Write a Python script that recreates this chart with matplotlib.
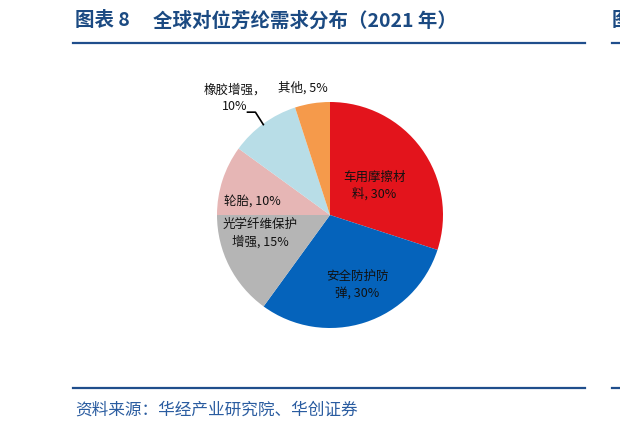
import matplotlib
matplotlib.use("Agg")
import matplotlib.pyplot as plt
from matplotlib.lines import Line2D

plt.rcParams['font.family'] = ['Noto Sans CJK SC', 'DejaVu Sans']

# data
labels = ['车用摩擦材\n料, 30%', '安全防护防\n弹, 30%', '光学纤维保护\n增强, 15%',
          '轮胎, 10%', '橡胶增强，\n10%', '其他, 5%']
shares = [30, 30, 15, 10, 10, 5]
colors = ['#E3141C', '#0563BB', '#B5B5B5', '#E6B6B5', '#B8DDE7', '#F59A4B']
fig_no = '图表 8'
title = '全球对位芳纶需求分布（2021 年）'
source = '资料来源：华经产业研究院、华创证券'

W, H = 620, 430
fig = plt.figure(figsize=(W / 100, H / 100), dpi=100)

# pie axes: centre (330,215) px, radius 113 px
cx, cy, r = 330, 215, 113
ax = fig.add_axes([(cx - r) / W, 1 - (cy + r) / H, 2 * r / W, 2 * r / H])
wedges, _ = ax.pie(shares, colors=colors, startangle=90, counterclock=False,
                   wedgeprops=dict(linewidth=0))
ax.set_xlim(-1, 1)
ax.set_ylim(-1, 1)
ax.set_aspect('equal')
ax.axis('off')

# label positions in pie data coords
label_pos = [(0.39, 0.26), (0.24, -0.62), (-0.62, -0.16),
             (-0.69, 0.12), (-0.84, 1.03), (-0.24, 1.12)]
for lab, (x, y) in zip(labels, label_pos):
    ax.text(x, y, lab, ha='center', va='center', fontsize=9, color='#111111',
            linespacing=1.35, clip_on=False)

# leader line for 橡胶增强
ax.add_line(Line2D([-0.73, -0.66, -0.59], [0.91, 0.91, 0.80], color='black',
                   linewidth=1.2, clip_on=False))

# header / footer
blue = '#1F4E8C'
tcol = '#1B4A82'
fig.text(75 / W, 1 - 21 / H, fig_no, fontsize=14, fontweight='bold',
         color=tcol, va='center', ha='left')
fig.text(153 / W, 1 - 21 / H, title, fontsize=14, fontweight='bold',
         color=tcol, va='center', ha='left')
# start of the next chart's heading, cut by the right edge as in the page
fig.text(612 / W, 1 - 21 / H, '图', fontsize=14, fontweight='bold',
         color=tcol, va='center', ha='left')
for yy in (43, 388):
    fig.add_artist(Line2D([73 / W, 585 / W], [1 - yy / H, 1 - yy / H],
                          color=blue, linewidth=1.6))
    fig.add_artist(Line2D([612 / W, 1.0], [1 - yy / H, 1 - yy / H],
                          color=blue, linewidth=1.6))
fig.text(75 / W, 1 - 410 / H, source, fontsize=12, color='#2A5CA0',
         va='center', ha='left')

fig.savefig('out.png', dpi=100)
